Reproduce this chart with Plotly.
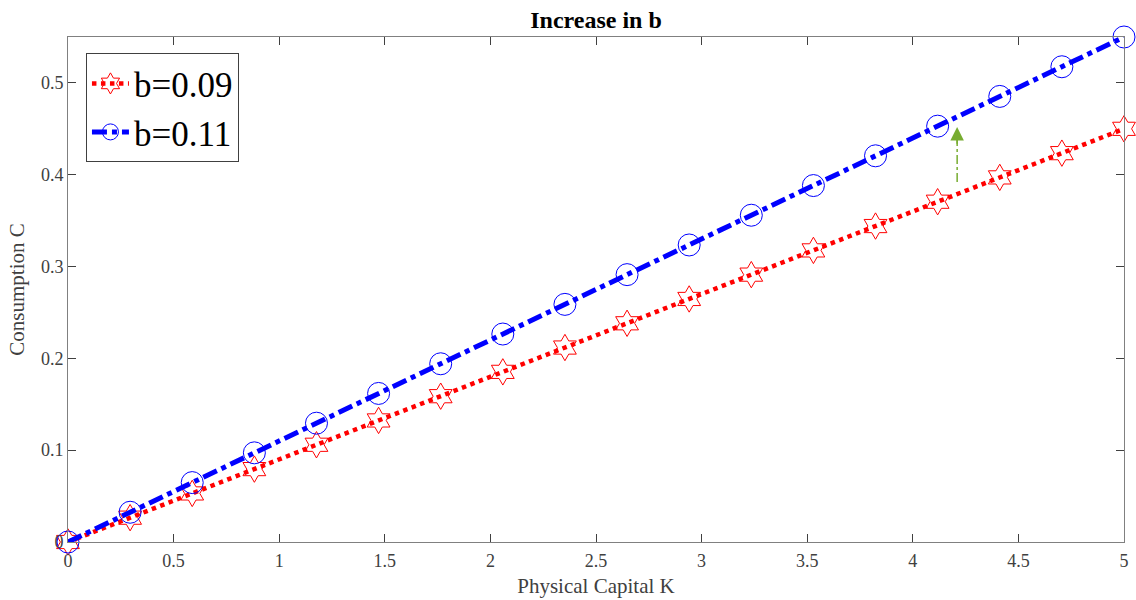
import plotly.graph_objects as go

K = [0, 0.2941, 0.5882, 0.8824, 1.1765, 1.4706, 1.7647, 2.0588, 2.3529, 2.6471,
     2.9412, 3.2353, 3.5294, 3.8235, 4.1176, 4.4118, 4.7059, 5.0]
C_b009 = [0, 0.0265, 0.0529, 0.0794, 0.1059, 0.1324, 0.1588, 0.1853, 0.2118, 0.2382,
          0.2647, 0.2912, 0.3176, 0.3441, 0.3706, 0.3971, 0.4235, 0.45]
C_b011 = [0, 0.0324, 0.0647, 0.0971, 0.1294, 0.1618, 0.1941, 0.2265, 0.2588, 0.2912,
          0.3235, 0.3559, 0.3882, 0.4206, 0.4529, 0.4853, 0.5176, 0.55]
arrow_x = [4.21, 4.21]
arrow_y = [0.392, 0.452]

x_ticks = [0, 0.5, 1, 1.5, 2, 2.5, 3, 3.5, 4, 4.5, 5]
x_tick_labels = ["0", "0.5", "1", "1.5", "2", "2.5", "3", "3.5", "4", "4.5", "5"]
y_ticks = [0, 0.1, 0.2, 0.3, 0.4, 0.5]
y_tick_labels = ["0", "0.1", "0.2", "0.3", "0.4", "0.5"]

FONT = "Liberation Serif, Times New Roman, serif"

fig = go.Figure()
fig.add_trace(go.Scatter(
    x=K, y=C_b009, mode="lines+markers", name="b=0.09", cliponaxis=False,
    line=dict(color="#ff0000", width=4.5, dash="dot"),
    marker=dict(symbol="hexagram-open", size=20, color="#ff0000", line=dict(width=1)),
))
fig.add_trace(go.Scatter(
    x=K, y=C_b011, mode="lines+markers", name="b=0.11", cliponaxis=False,
    line=dict(color="#0000ff", width=5, dash="dashdot"),
    marker=dict(symbol="circle-open", size=22, color="#0000ff", line=dict(width=1)),
))
fig.add_trace(go.Scatter(
    x=arrow_x, y=[arrow_y[0], arrow_y[1] - 0.012], mode="lines", showlegend=False,
    line=dict(color="#77ac30", width=1.5, dash="dashdot"), hoverinfo="skip",
))
fig.add_annotation(
    x=arrow_x[1], y=arrow_y[1], ax=arrow_x[0], ay=arrow_y[1] - 0.02,
    xref="x", yref="y", axref="x", ayref="y", text="",
    showarrow=True, arrowhead=2, arrowsize=1.8, arrowwidth=1.5, arrowcolor="#77ac30",
)

axis_common = dict(
    showline=True, linecolor="#808080", linewidth=1, mirror="ticks",
    ticks="inside", ticklen=8, tickcolor="#404040", showgrid=False, zeroline=False,
    tickfont=dict(family=FONT, size=18, color="#404040"), automargin=False,
)
fig.update_layout(
    width=1136, height=600,
    margin=dict(l=68, r=12, t=37, b=58),
    paper_bgcolor="white", plot_bgcolor="white",
    title=dict(text="<b>Increase in b</b>", x=0.5, xref="paper", xanchor="center",
               y=1 - 20 / 600, yanchor="middle",
               font=dict(family=FONT, size=24, color="black")),
    xaxis=dict(range=[0, 5], tickvals=x_ticks, ticktext=x_tick_labels, ticklabelstandoff=2,
               title=dict(text="Physical Capital K", font=dict(family=FONT, size=21, color="#404040"), standoff=8),
               **axis_common),
    yaxis=dict(range=[0, 0.55], tickvals=y_ticks, ticktext=y_tick_labels,
               title=dict(text="Consumption C", font=dict(family=FONT, size=21, color="#404040"), standoff=10),
               **axis_common),
    legend=dict(x=0.017, y=0.968, xanchor="left", yanchor="top",
                bordercolor="#404040", borderwidth=1, bgcolor="white",
                font=dict(family=FONT, size=35, color="black"),
                itemwidth=37, tracegroupgap=0),
    showlegend=True,
)

fig.write_html("out.html", post_script="document.body.style.margin='0';",
               config={"displayModeBar": False})
